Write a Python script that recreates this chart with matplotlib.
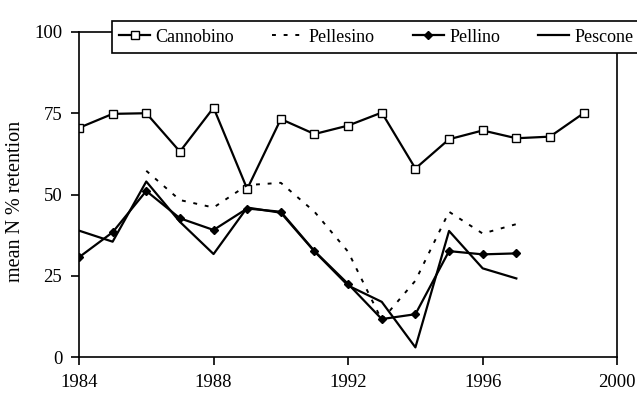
import matplotlib
matplotlib.use("Agg")
import matplotlib.pyplot as plt

plt.rcParams.update({
    'font.family': ['Liberation Serif', 'DejaVu Serif'],
    'font.size': 13.5,
    'axes.linewidth': 1.2,
    'xtick.major.width': 1.2,
    'ytick.major.width': 1.2,
})

years_cannobino = list(range(1984, 2000))
cannobino = [70.5, 74.8, 75.0, 63.2, 76.7, 51.7, 73.2, 68.6, 71.2, 75.2, 58.0, 67.0, 69.7, 67.3, 67.8, 75.0]

years_pellesino = list(range(1986, 1998))
pellesino = [57.3, 48.3, 46.0, 52.9, 53.6, 44.7, 32.4, 11.4, 23.5, 44.7, 38.0, 40.9]

years_pellino = list(range(1984, 1998))
pellino = [30.7, 38.4, 51.1, 42.7, 39.1, 45.7, 44.7, 32.6, 22.5, 11.7, 13.2, 32.6, 31.6, 31.9]

years_pescone = list(range(1984, 1998))
pescone = [38.9, 35.5, 54.0, 41.6, 31.7, 46.0, 44.4, 32.5, 22.0, 17.0, 3.0, 38.8, 27.3, 24.2]

x_ticks = [1984, 1988, 1992, 1996, 2000]
y_ticks = [0, 25, 50, 75, 100]

fig = plt.figure(figsize=(6.37, 4.04), dpi=100)
ax = fig.add_axes([0.124, 0.116, 0.845, 0.805])

ax.plot(years_cannobino, cannobino, color='black', lw=1.6, marker='s', ms=6,
        mfc='white', mec='black', mew=1.0, label='Cannobino')
ax.plot(years_pellesino, pellesino, color='black', lw=1.4, ls=(0, (2, 4)),
        label='Pellesino')
ax.plot(years_pellino, pellino, color='black', lw=1.6, marker='D', ms=4.5,
        mfc='black', mec='black', label='Pellino')
ax.plot(years_pescone, pescone, color='black', lw=1.6, label='Pescone')

ax.set_xlim(1984, 2000)
ax.set_ylim(0, 100)
ax.set_xticks(x_ticks)
ax.set_yticks(y_ticks)
ax.tick_params(direction='out', length=6, pad=6)
ax.set_ylabel('mean N % retention', fontsize=14.5)
ax.yaxis.set_label_coords(-0.100, 0.48)

leg = fig.legend(loc='lower left', bbox_to_anchor=(0.176, 0.869, 0.83, 0.101),
                 mode='expand', ncol=4, frameon=True, fancybox=False,
                 edgecolor='black', framealpha=1, handlelength=1.7,
                 handletextpad=0.3, borderaxespad=0, fontsize=13)
leg.get_frame().set_linewidth(1.2)

fig.savefig('out.png', dpi=100)
